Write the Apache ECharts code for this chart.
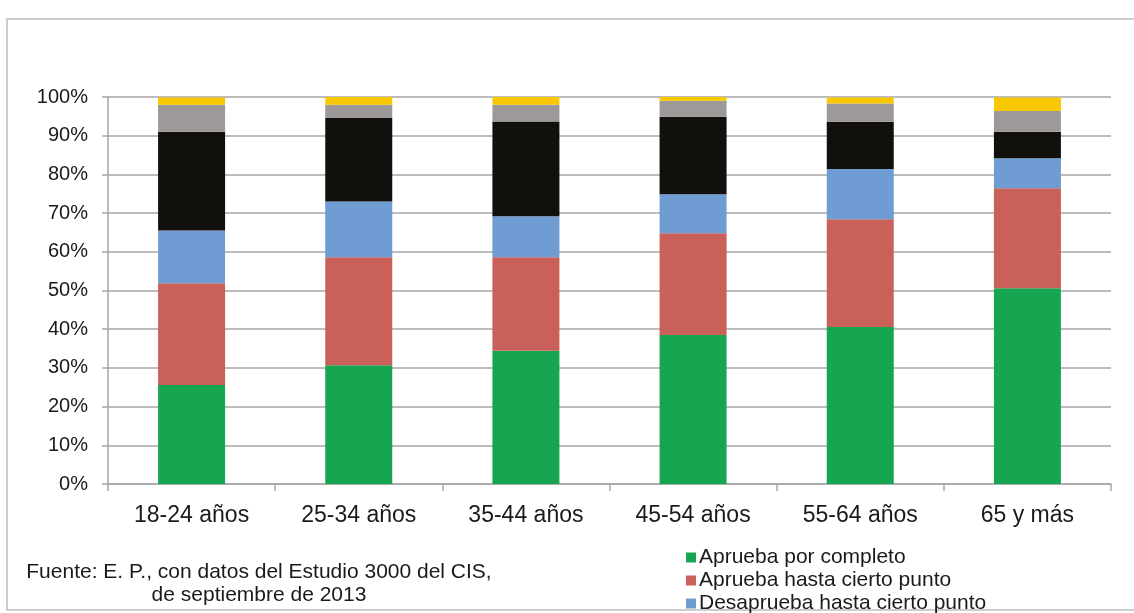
<!DOCTYPE html>
<html>
<head>
<meta charset="utf-8">
<script src="https://cdn.jsdelivr.net/npm/echarts@6/dist/echarts.min.js"></script>
<style>
  html, body { margin: 0; padding: 0; background: #fff; }
  #grid { width: 1134px; height: 613px; }
</style>
</head>
<body>
<div id="grid"></div>
<script>
const myChart = echarts.init(document.getElementById('grid'));

const categories = ['18-24 años', '25-34 años', '35-44 años', '45-54 años', '55-64 años', '65 y más'];
const seriesNames = [
  'Aprueba por completo',
  'Aprueba hasta cierto punto',
  'Desaprueba hasta cierto punto',
  'Desaprueba por completo',
  'NS',
  'NC',
];
const apruebaCompleto = [25.6, 30.7, 34.4, 38.5, 40.6, 50.6];
const apruebaCierto = [26.3, 27.9, 24.2, 26.3, 27.8, 25.8];
const desapruebaCierto = [13.6, 14.4, 10.6, 10.1, 13.0, 7.8];
const desapruebaCompleto = [25.5, 21.6, 24.5, 20.0, 12.2, 6.8];
const ns = [7.0, 3.4, 4.3, 4.1, 4.7, 5.4];
const nc = [1.9, 2.0, 2.0, 1.0, 1.6, 3.5];
const yTicks = [0, 10, 20, 30, 40, 50, 60, 70, 80, 90, 100];

const colors = ['#16a651', '#c9605a', '#6f9cd2', '#12100c', '#9d9998', '#f9c800'];
const values = [apruebaCompleto, apruebaCierto, desapruebaCierto, desapruebaCompleto, ns, nc];

const fontFamily = '"Liberation Sans", Arial, sans-serif';
const textColor = '#1a1a1a';

const option = {
  animation: false,
  textStyle: { fontFamily: fontFamily },
  grid: {
    left: 108,
    right: 23,
    top: 97,
    bottom: 129,
  },
  legend: {
    orient: 'vertical',
    left: 686,
    top: 547,
    height: 400,
    padding: 0,
    itemWidth: 10,
    itemHeight: 10,
    itemGap: 2,
    icon: 'rect',
    textStyle: {
      fontSize: 21,
      lineHeight: 21,
      color: textColor,
      padding: [0, 0, 0, -2],
    },
    data: seriesNames,
  },
  graphic: [
    {
      type: 'rect',
      shape: { x: 7, y: 19, width: 1200, height: 591 },
      style: { fill: 'none', stroke: '#bdbdbd', lineWidth: 1.5 },
      silent: true,
    },
    {
      type: 'text',
      x: 259,
      y: 561,
      style: {
        text: 'Fuente: E. P., con datos del Estudio 3000 del CIS,\nde septiembre de 2013',
        font: '21px ' + fontFamily,
        fill: textColor,
        align: 'center',
        verticalAlign: 'top',
        lineHeight: 23,
      },
    },
  ],
  xAxis: {
    type: 'category',
    data: categories,
    axisLine: { lineStyle: { color: '#a6a6a6', width: 1.5 } },
    axisTick: { show: true, length: 7, lineStyle: { color: '#a6a6a6', width: 1.5 } },
    axisLabel: { fontSize: 23, color: textColor, margin: 20 },
  },
  yAxis: {
    type: 'value',
    min: 0,
    max: 100,
    interval: 10,
    axisLine: { show: true, lineStyle: { color: '#a6a6a6', width: 1.5 } },
    axisTick: { show: true, length: 6, lineStyle: { color: '#a6a6a6', width: 1.5 } },
    axisLabel: {
      fontSize: 20,
      color: textColor,
      margin: 20,
      formatter: (value) => (yTicks.includes(value) ? value + '%' : ''),
    },
    splitLine: { show: true, lineStyle: { color: '#a6a6a6', width: 1.5 } },
  },
  series: seriesNames.map((name, i) => ({
    name: name,
    type: 'bar',
    stack: 'total',
    barWidth: 67,
    data: values[i],
    itemStyle: { color: colors[i] },
  })),
};

myChart.setOption(option);
</script>
</body>
</html>
